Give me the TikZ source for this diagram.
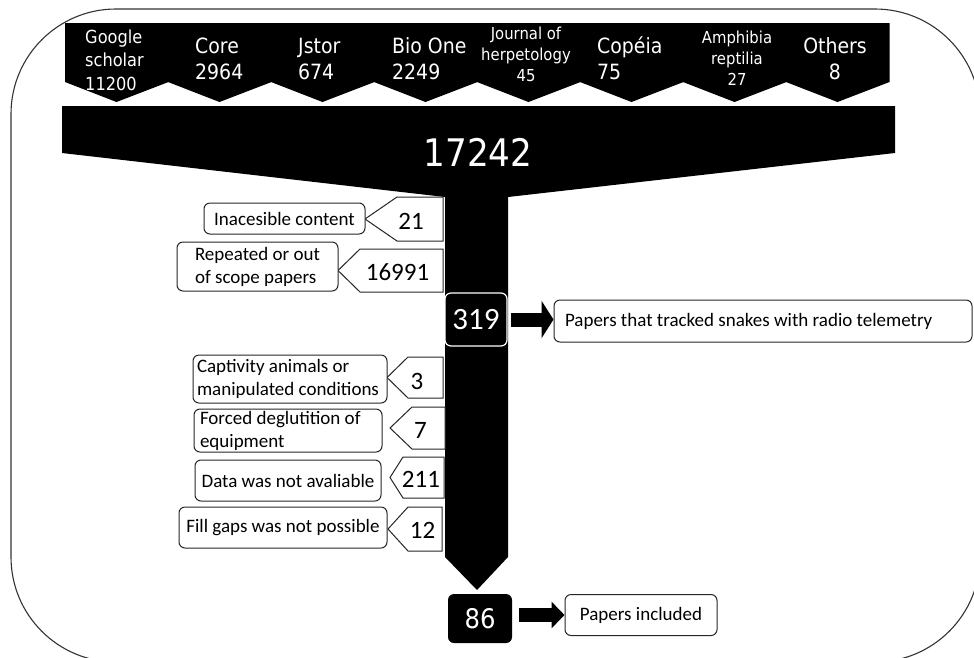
\documentclass[tikz,border=0pt]{standalone}
\usepackage{fontspec}
\newfontfamily\tahfont[FakeStretch=0.9]{DejaVu Sans}
\newfontfamily\calfont{Carlito}
\usetikzlibrary{arrows.meta}
\begin{document}
\begin{tikzpicture}[x=1pt,y=-1pt,
  frame/.style={draw=black!80, line width=1.1pt, rounded corners=105pt},
  tabshape/.style={fill=black},
  tabtxt/.style={text=white, inner sep=0pt},
  bigtxt/.style={font=\tahfont\fontsize{21}{26}\selectfont},
  midtxt/.style={font=\tahfont\fontsize{18}{23.5}\selectfont},
  smalltxt/.style={font=\tahfont\fontsize{16.5}{21}\selectfont},
  pent/.style={draw=black!85, line width=1pt, fill=white},
  numtxt/.style={font=\calfont\fontsize{25}{28}\selectfont, inner sep=0pt},
  exbox/.style={draw=black!85, line width=1pt, fill=white, rounded corners=6pt,
    font=\calfont\fontsize{19}{23}\selectfont, inner ysep=0pt},
  blackbox/.style={fill=black, rounded corners=6pt, text=white, inner sep=0pt},
  bigarrow/.style={line width=14pt, -{Triangle[length=12pt,width=37pt]}},
  bigarrowb/.style={line width=14pt, -{Triangle[length=13pt,width=26pt]}}
]
\useasboundingbox (0,0) rectangle (974,657);
\fill[white] (0,0) rectangle (974,657);
\clip (0,0) rectangle (974,657);
% outer frame
\draw[frame] (11,9) rectangle (980,662);
% top tabs
\foreach \L in {65,168,271,374,477,580,683,786}{
  \fill[tabshape] (\L,23) -- (\L+103.5,23) -- (\L+103.5,82) -- (\L+51.5,102) -- (\L,82) -- cycle;
}
\node[tabtxt, midtxt, align=left, anchor=west] (gs) at (85,60) {Google\\scholar\\11200};
\node[tabtxt, bigtxt, align=left, anchor=west] (core) at (195,58.5) {Core\\2964};
\node[tabtxt, bigtxt, align=left, anchor=west] (jstor) at (298,58.5) {Jstor\\674};
\node[tabtxt, bigtxt, align=left, anchor=west] (bio) at (392,58.5) {Bio One\\2249};
\node[tabtxt, smalltxt, align=center] (jh) at (526,54) {Journal of\\herpetology\\45};
\node[tabtxt, bigtxt, align=left, anchor=west] (cop) at (597,58.5) {Copéia\\75};
\node[tabtxt, smalltxt, align=center] (amph) at (737,58) {Amphibia\\reptilia\\27};
\node[tabtxt, bigtxt, align=center] (oth) at (835,58.5) {Others\\8};
% funnel and stem
\fill[black] (62,106) -- (895,106) -- (895,153) -- (508,197) -- (508,557)
  -- (477,590) -- (445,557) -- (445,197) -- (62,153) -- cycle;
\node[text=white, inner sep=0pt, font=\tahfont\fontsize{38}{40}\selectfont] (total) at (478,152.5) {17242};
% exclusion number pentagons
\draw[pent] (365,219) -- (397,197) -- (443,197) -- (443,241) -- (397,241) -- cycle;
\draw[pent] (338,270.5) -- (360,249) -- (443,249) -- (443,292) -- (360,292) -- cycle;
\draw[pent] (387,377.5) -- (408,357) -- (443,357) -- (443,398) -- (408,398) -- cycle;
\draw[pent] (390,428) -- (412,407) -- (445,407) -- (445,449) -- (412,449) -- cycle;
\draw[pent] (390,477.5) -- (403,457) -- (444,457) -- (444,498) -- (403,498) -- cycle;
\draw[pent] (388,529) -- (408,507) -- (442,507) -- (442,551) -- (408,551) -- cycle;
\node[numtxt] (x1) at (411,221.5) {21};
\node[numtxt] (x2) at (397.5,272) {16991};
\node[numtxt] (x3) at (417,381) {3};
\node[numtxt] (x4) at (420.5,430) {7};
\node[numtxt] (x5) at (421,479.5) {211};
\node[numtxt] (x6) at (422.5,530) {12};
% exclusion reason boxes
\node[exbox, minimum height=31pt, minimum width=161pt, inner xsep=4pt, align=center] (b1) at (284.5,218.5) {Inacesible content};
\node[exbox, minimum height=49pt, minimum width=161pt, inner xsep=4pt, align=left] (b2) at (257.5,266.5) {Repeated or out\\of scope papers};
\node[exbox, minimum height=48pt, text width=186pt, inner xsep=4pt, align=flush left] (b3) at (290,379) {Captivity animals or\\manipulated conditions};
\node[exbox, minimum height=43pt, text width=176pt, inner xsep=6pt, align=flush left] (b4) at (288,430.5) {Forced deglutition of\\equipment};
\node[exbox, minimum height=41pt, minimum width=186pt, inner xsep=2pt, align=center] (b5) at (288,480.5) {Data was not avaliable};
\node[exbox, minimum height=41pt, minimum width=208pt, inner xsep=2pt, align=center] (b6) at (283,527.5) {Fill gaps was not possible};
% 319 and 86
\node[blackbox, draw=white, line width=1.2pt, minimum width=62pt, minimum height=53pt,
  font=\calfont\fontsize{31}{34}\selectfont] (n319) at (476,319.5) {319};
\node[blackbox, minimum width=64pt, minimum height=49pt,
  font=\tahfont\fontsize{27}{30}\selectfont] (n86) at (480,618.5) {86};
% result boxes
\node[exbox, minimum height=42pt, text width=396pt, inner xsep=11pt, align=flush left] (tel) at (763,321) {Papers that tracked snakes with radio telemetry};
\node[exbox, minimum height=41pt, minimum width=152pt, inner xsep=2pt, align=center] (inc) at (641,615) {Papers included};
% arrows
\draw[bigarrow] ([xshift=3pt]n319.east) -- (n319.east -| tel.west);
\draw[bigarrowb] ([xshift=7pt]n86.east |- inc.west) -- (inc.west);
\end{tikzpicture}
\end{document}
